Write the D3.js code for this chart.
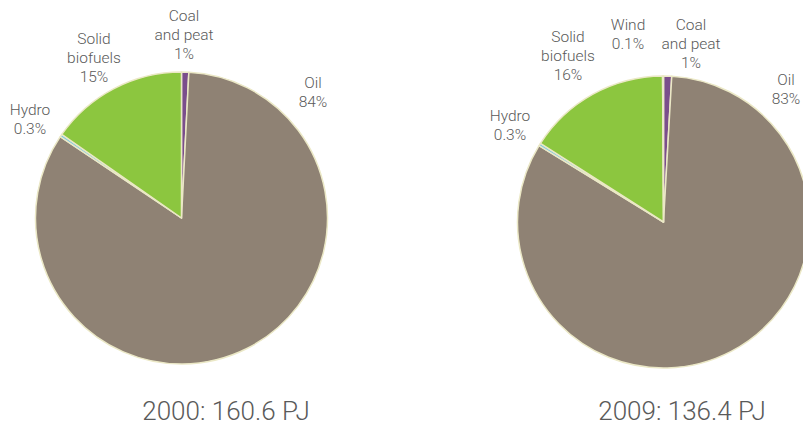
<!DOCTYPE html>
<html>
<head>
    <title>Energy supply pies</title>
    <script src="https://d3js.org/d3.v7.min.js"></script>
    <style>
        body { margin: 0; background: #fff; }
        svg text {
            font-family: Roboto, 'Open Sans', sans-serif;
            font-weight: 300;
            fill: #5a5a5a;
        }
    </style>
</head>
<body>
    <svg width="803" height="429"></svg>
    <script>
        // data
        const categories = ['Coal and peat', 'Oil', 'Hydro', 'Solid biofuels', 'Wind'];
        const values2000 = [0.8, 83.6, 0.3, 15.3, 0];
        const values2009 = [0.9, 82.85, 0.3, 15.85, 0.1];
        const labels2000 = ['1%', '84%', '0.3%', '15%', null];
        const labels2009 = ['1%', '83%', '0.3%', '16%', '0.1%'];
        const titles = ['2000: 160.6 PJ', '2009: 136.4 PJ'];

        const colors = d3.scaleOrdinal()
            .domain(categories)
            .range(['#7a4e8c', '#8f8274', '#7cc8e4', '#8cc63f', '#c9c9c9']);

        // label name lines
        const nameLines = {
            'Coal and peat': ['Coal', 'and peat'],
            'Oil': ['Oil'],
            'Hydro': ['Hydro'],
            'Solid biofuels': ['Solid', 'biofuels'],
            'Wind': ['Wind']
        };

        const svg = d3.select('svg');
        const radius = 146;

        const pies = [
            {cx: 181.5, cy: 218, values: values2000, labels: labels2000, title: titles[0], tx: 226,
             pos: {'Coal and peat': [184, 16], 'Oil': [313, 83], 'Hydro': [30, 110], 'Solid biofuels': [94, 39]}},
            {cx: 663.5, cy: 222, values: values2009, labels: labels2009, title: titles[1], tx: 682,
             pos: {'Coal and peat': [691, 25], 'Oil': [786, 80], 'Hydro': [510, 116], 'Solid biofuels': [568, 37], 'Wind': [628, 25]}}
        ];

        const pie = d3.pie().sort(null).value(d => d.value);
        const arc = d3.arc().innerRadius(0).outerRadius(radius);

        pies.forEach(p => {
            const rows = categories.map((c, i) => ({name: c, value: p.values[i], label: p.labels[i]}));
            const g = svg.append('g').attr('transform', `translate(${p.cx},${p.cy})`);

            g.selectAll('path')
                .data(pie(rows).filter(d => d.data.value > 0))
                .enter().append('path')
                .attr('d', arc)
                .attr('fill', d => colors(d.data.name))
                .attr('stroke', '#ebe8c6')
                .attr('stroke-width', 1.5)
                .attr('stroke-linejoin', 'round');

            rows.filter(r => r.label).forEach(r => {
                const [x, y] = p.pos[r.name];
                const lines = nameLines[r.name].concat([r.label]);
                const t = svg.append('text')
                    .attr('text-anchor', 'middle')
                    .style('font-size', '15.5px');
                lines.forEach((l, i) => {
                    t.append('tspan')
                        .attr('x', x)
                        .attr('y', y + i * 19)
                        .attr('dy', '0.35em')
                        .text(l);
                });
            });

            svg.append('text')
                .attr('x', p.tx)
                .attr('y', 411)
                .attr('dy', '0.35em')
                .attr('text-anchor', 'middle')
                .style('font-size', '26px')
                .text(p.title);
        });
    </script>
</body>
</html>
